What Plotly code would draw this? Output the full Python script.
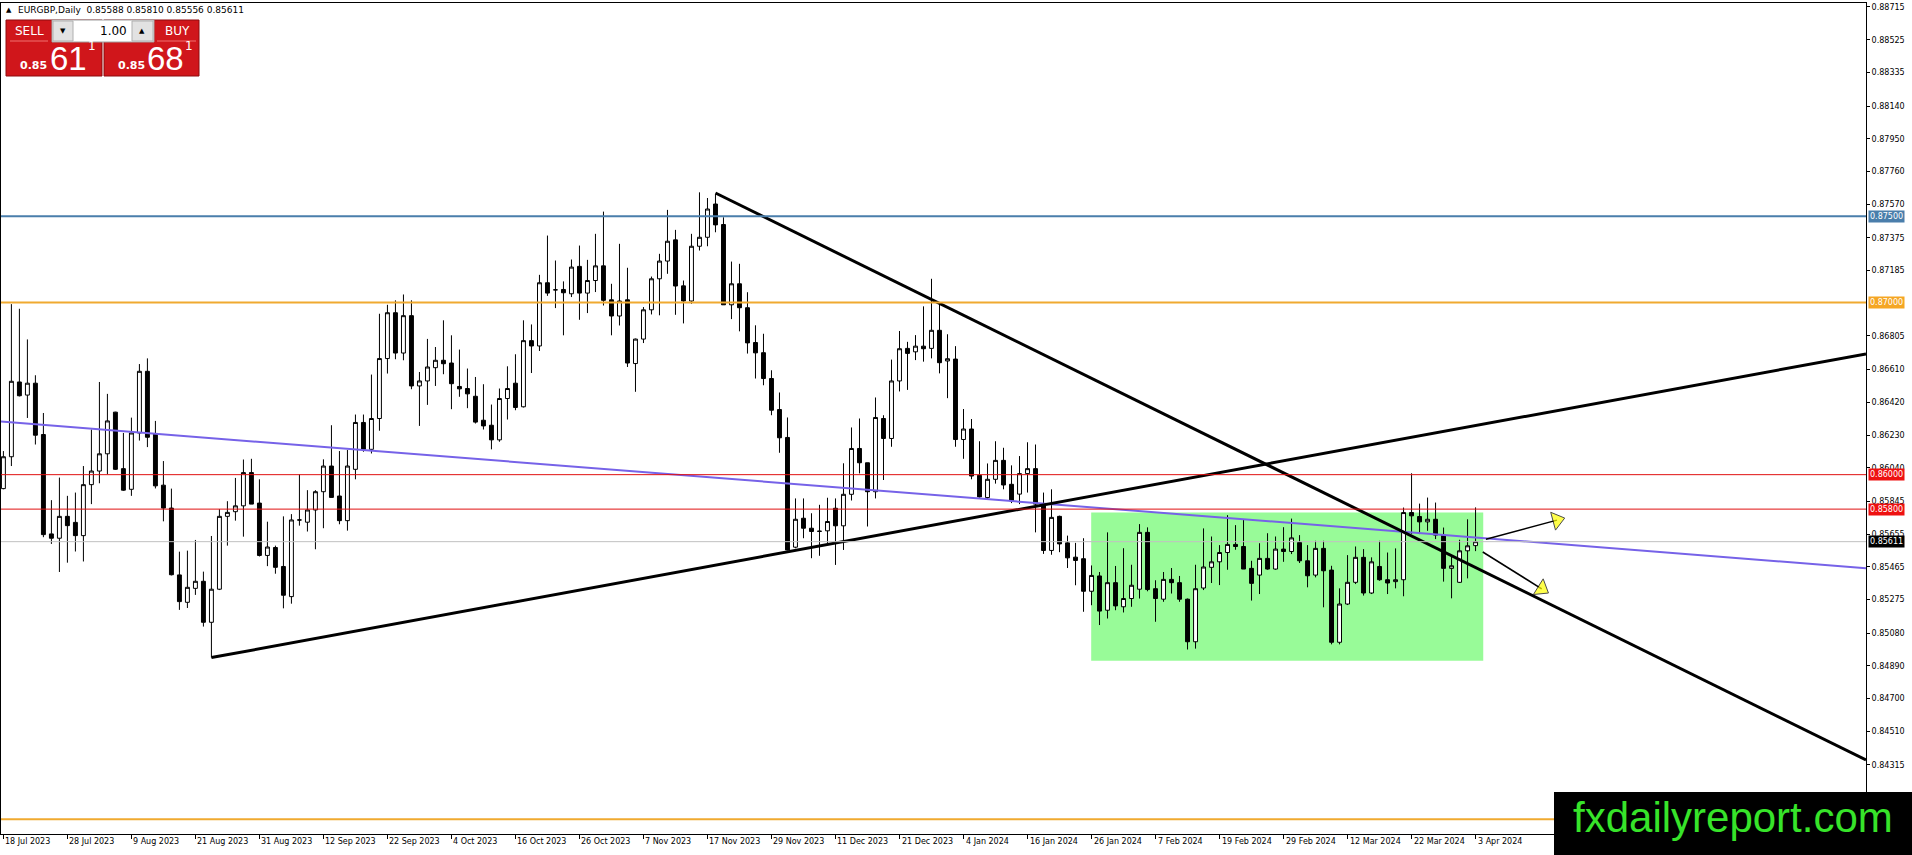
import pandas as pd
import plotly.graph_objects as go

# Velas diarias EURGBP (18 Jul 2023 - 3 Apr 2024)
holidays = ["2023-12-25", "2024-01-01"]
dates = pd.bdate_range("2023-07-18", "2024-04-03")
dates = dates[~dates.isin(pd.to_datetime(holidays))]

open_prices = [
    0.85919, 0.86104, 0.86538, 0.86462, 0.86531, 0.86233, 0.85656, 0.85631, 0.85758, 0.85723,
    0.85646, 0.85942, 0.86021, 0.86121, 0.86363, 0.86035, 0.85915, 0.86242, 0.86600, 0.86238,
    0.85939, 0.85806, 0.85418, 0.85259, 0.85340, 0.85381, 0.85143, 0.85335, 0.85758, 0.85785,
    0.85819, 0.86012, 0.85835, 0.85531, 0.85577, 0.85467, 0.85292, 0.85737, 0.85724, 0.85795,
    0.85901, 0.86050, 0.85876, 0.85733, 0.86031, 0.86303, 0.86147, 0.86326, 0.86674, 0.86940,
    0.86706, 0.86923, 0.86515, 0.86544, 0.86621, 0.86664, 0.86648, 0.86512, 0.86500, 0.86455,
    0.86316, 0.86287, 0.86202, 0.86442, 0.86531, 0.86394, 0.86778, 0.86747, 0.87114, 0.87073,
    0.87075, 0.87050, 0.87209, 0.87054, 0.87127, 0.87212, 0.87015, 0.86921, 0.87015, 0.86645,
    0.86787, 0.86957, 0.87137, 0.87240, 0.87363, 0.87096, 0.87008, 0.87326, 0.87378, 0.87571,
    0.87452, 0.86986, 0.87108, 0.86969, 0.86767, 0.86708, 0.86558, 0.86378, 0.86216, 0.85579,
    0.85747, 0.85689, 0.85672, 0.85674, 0.85805, 0.85703, 0.85886, 0.86152, 0.86069, 0.85901,
    0.86326, 0.86210, 0.86544, 0.86733, 0.86713, 0.86746, 0.86733, 0.86838, 0.86660, 0.86671,
    0.86204, 0.86265, 0.85996, 0.85867, 0.85973, 0.86083, 0.85944, 0.85887, 0.86006, 0.86035,
    0.85829, 0.85560, 0.85758, 0.85604, 0.85521, 0.85512, 0.85323, 0.85412, 0.85213, 0.85373,
    0.85233, 0.85281, 0.85335, 0.85665, 0.85338, 0.85277, 0.85392, 0.85373, 0.85277, 0.85030,
    0.85342, 0.85462, 0.85494, 0.85548, 0.85595, 0.85583, 0.85456, 0.85417, 0.85514, 0.85452,
    0.85568, 0.85554, 0.85606, 0.85500, 0.85417, 0.85572, 0.85446, 0.85027, 0.85249, 0.85375,
    0.85520, 0.85313, 0.85467, 0.85390, 0.85379, 0.85390, 0.85780, 0.85757, 0.85726, 0.85741,
    0.85649, 0.85456, 0.85375, 0.85558, 0.85588,
]
high_prices = [
    0.86137, 0.86990, 0.86963, 0.86785, 0.86577, 0.86358, 0.85852, 0.85983, 0.85877, 0.85896,
    0.86050, 0.86262, 0.86538, 0.86469, 0.86365, 0.86242, 0.86331, 0.86642, 0.86675, 0.86312,
    0.86079, 0.85919, 0.85553, 0.85559, 0.85621, 0.85437, 0.85644, 0.85800, 0.85846, 0.85981,
    0.86088, 0.86092, 0.85973, 0.85727, 0.85588, 0.85758, 0.85771, 0.86002, 0.85910, 0.85910,
    0.86089, 0.86287, 0.86137, 0.86143, 0.86349, 0.86349, 0.86581, 0.86934, 0.86986, 0.87012,
    0.87046, 0.87012, 0.86596, 0.86788, 0.86741, 0.86896, 0.86809, 0.86726, 0.86616, 0.86567,
    0.86525, 0.86407, 0.86500, 0.86629, 0.86699, 0.86896, 0.86872, 0.87160, 0.87388, 0.87243,
    0.87122, 0.87249, 0.87330, 0.87247, 0.87398, 0.87527, 0.87108, 0.87340, 0.87201, 0.86790,
    0.86973, 0.87150, 0.87282, 0.87537, 0.87421, 0.87127, 0.87398, 0.87639, 0.87606, 0.87629,
    0.87494, 0.87237, 0.87224, 0.87059, 0.86867, 0.86818, 0.86606, 0.86477, 0.86332, 0.85862,
    0.85862, 0.85776, 0.85825, 0.85866, 0.85862, 0.86066, 0.86274, 0.86326, 0.86069, 0.86448,
    0.86345, 0.86668, 0.86834, 0.86771, 0.86810, 0.86977, 0.87137, 0.86992, 0.86815, 0.86746,
    0.86381, 0.86323, 0.86194, 0.86065, 0.86194, 0.86156, 0.86054, 0.86108, 0.86188, 0.86175,
    0.85896, 0.85915, 0.85762, 0.85646, 0.85604, 0.85631, 0.85473, 0.85435, 0.85665, 0.85470,
    0.85573, 0.85477, 0.85713, 0.85694, 0.85387, 0.85435, 0.85458, 0.85412, 0.85281, 0.85477,
    0.85688, 0.85641, 0.85591, 0.85765, 0.85707, 0.85738, 0.85500, 0.85602, 0.85660, 0.85641,
    0.85695, 0.85745, 0.85649, 0.85591, 0.85616, 0.85616, 0.85471, 0.85340, 0.85533, 0.85583,
    0.85568, 0.85520, 0.85616, 0.85548, 0.85572, 0.85809, 0.86008, 0.85832, 0.85867, 0.85838,
    0.85693, 0.85529, 0.85622, 0.85741, 0.85810,
]
low_prices = [
    0.85915, 0.86050, 0.86454, 0.86329, 0.86175, 0.85637, 0.85598, 0.85435, 0.85489, 0.85554,
    0.85496, 0.85829, 0.85950, 0.86002, 0.86027, 0.85906, 0.85877, 0.86198, 0.86160, 0.85920,
    0.85729, 0.85415, 0.85215, 0.85226, 0.85302, 0.85118, 0.84938, 0.85330, 0.85588, 0.85733,
    0.85640, 0.85829, 0.85525, 0.85469, 0.85425, 0.85224, 0.85251, 0.85704, 0.85670, 0.85567,
    0.85689, 0.85868, 0.85712, 0.85675, 0.85973, 0.86133, 0.86123, 0.86255, 0.86587, 0.86670,
    0.86664, 0.86496, 0.86283, 0.86405, 0.86515, 0.86583, 0.86380, 0.86452, 0.86386, 0.86297,
    0.86262, 0.86147, 0.86191, 0.86320, 0.86374, 0.86390, 0.86590, 0.86718, 0.87038, 0.86967,
    0.86809, 0.87031, 0.86899, 0.86938, 0.87060, 0.86982, 0.86809, 0.86866, 0.86625, 0.86481,
    0.86764, 0.86930, 0.86925, 0.87166, 0.86928, 0.86878, 0.86992, 0.87301, 0.87326, 0.87407,
    0.86986, 0.86903, 0.86832, 0.86703, 0.86558, 0.86519, 0.86345, 0.86127, 0.85560, 0.85573,
    0.85631, 0.85515, 0.85529, 0.85602, 0.85476, 0.85563, 0.85850, 0.86007, 0.85699, 0.85862,
    0.85969, 0.86162, 0.86483, 0.86492, 0.86665, 0.86656, 0.86675, 0.86588, 0.86444, 0.86162,
    0.86092, 0.85973, 0.85867, 0.85858, 0.85948, 0.85915, 0.85835, 0.85829, 0.85896, 0.85665,
    0.85540, 0.85535, 0.85550, 0.85458, 0.85358, 0.85204, 0.85242, 0.85127, 0.85165, 0.85213,
    0.85200, 0.85233, 0.85281, 0.85323, 0.85146, 0.85262, 0.85310, 0.85262, 0.84985, 0.84990,
    0.85330, 0.85371, 0.85359, 0.85448, 0.85564, 0.85452, 0.85269, 0.85307, 0.85448, 0.85448,
    0.85494, 0.85539, 0.85487, 0.85346, 0.85404, 0.85230, 0.85015, 0.85015, 0.85243, 0.85365,
    0.85298, 0.85307, 0.85384, 0.85307, 0.85340, 0.85294, 0.85655, 0.85655, 0.85674, 0.85626,
    0.85379, 0.85282, 0.85371, 0.85398, 0.85556,
]
close_prices = [
    0.86104, 0.86542, 0.86458, 0.86531, 0.86229, 0.85652, 0.85631, 0.85758, 0.85704, 0.85646,
    0.85942, 0.86021, 0.86121, 0.86312, 0.86031, 0.85910, 0.86242, 0.86600, 0.86217, 0.85935,
    0.85806, 0.85419, 0.85263, 0.85346, 0.85381, 0.85143, 0.85335, 0.85758, 0.85781, 0.85819,
    0.86012, 0.85829, 0.85531, 0.85580, 0.85462, 0.85300, 0.85737, 0.85737, 0.85795, 0.85901,
    0.86050, 0.85868, 0.85733, 0.86050, 0.86303, 0.86147, 0.86326, 0.86674, 0.86940, 0.86706,
    0.86923, 0.86515, 0.86544, 0.86625, 0.86664, 0.86644, 0.86528, 0.86498, 0.86469, 0.86305,
    0.86283, 0.86202, 0.86442, 0.86500, 0.86390, 0.86778, 0.86747, 0.87114, 0.87054, 0.87073,
    0.87056, 0.87205, 0.87054, 0.87127, 0.87212, 0.87012, 0.86921, 0.87008, 0.86648, 0.86787,
    0.86957, 0.87137, 0.87240, 0.87355, 0.87095, 0.87008, 0.87326, 0.87378, 0.87542, 0.87450,
    0.86986, 0.87108, 0.86969, 0.86765, 0.86707, 0.86558, 0.86374, 0.86214, 0.85563, 0.85741,
    0.85689, 0.85670, 0.85671, 0.85728, 0.85703, 0.85886, 0.86152, 0.86069, 0.85901, 0.86332,
    0.86210, 0.86544, 0.86731, 0.86704, 0.86746, 0.86731, 0.86838, 0.86650, 0.86673, 0.86204,
    0.86265, 0.85992, 0.85871, 0.85973, 0.86083, 0.85940, 0.85848, 0.86006, 0.86035, 0.85829,
    0.85560, 0.85752, 0.85598, 0.85517, 0.85502, 0.85323, 0.85415, 0.85208, 0.85373, 0.85238,
    0.85281, 0.85358, 0.85665, 0.85333, 0.85281, 0.85392, 0.85373, 0.85277, 0.85030, 0.85338,
    0.85464, 0.85494, 0.85548, 0.85595, 0.85583, 0.85452, 0.85369, 0.85514, 0.85452, 0.85568,
    0.85554, 0.85633, 0.85500, 0.85413, 0.85572, 0.85442, 0.85027, 0.85249, 0.85375, 0.85520,
    0.85313, 0.85494, 0.85390, 0.85371, 0.85390, 0.85780, 0.85761, 0.85726, 0.85741, 0.85649,
    0.85456, 0.85471, 0.85558, 0.85587, 0.85611,
]

date_labels = [
    "18 Jul 2023", "28 Jul 2023", "9 Aug 2023", "21 Aug 2023", "31 Aug 2023", "12 Sep 2023",
    "22 Sep 2023", "4 Oct 2023", "16 Oct 2023", "26 Oct 2023", "7 Nov 2023", "17 Nov 2023",
    "29 Nov 2023", "11 Dec 2023", "21 Dec 2023", "4 Jan 2024", "16 Jan 2024", "26 Jan 2024",
    "7 Feb 2024", "19 Feb 2024", "29 Feb 2024", "12 Mar 2024", "22 Mar 2024", "3 Apr 2024",
]
price_ticks = [
    0.88715, 0.88525, 0.88335, 0.88140, 0.87950, 0.87760, 0.87570, 0.87375, 0.87185,
    0.86805, 0.86610, 0.86420, 0.86230, 0.86040, 0.85845, 0.85655, 0.85465, 0.85275,
    0.85080, 0.84890, 0.84700, 0.84510, 0.84315,
]

# niveles horizontales (precio, color, grosor)
levels = [0.87500, 0.87000, 0.86000, 0.85800, 0.84000]
level_colors = ["#4A7EAB", "#F0AA30", "#E01010", "#E01010", "#F0AA30"]
level_widths = [2, 2, 1, 1, 2]
bid = close_prices[-1]

# objetos dibujados (indice de vela, precio)
trend_down_x, trend_down_y = [89.0, 232.8], [0.87635, 0.84344]
trend_up_x, trend_up_y = [26.0, 232.8], [0.84938, 0.86701]
channel_x, channel_y = [-0.3, 232.8], [0.86308, 0.85457]
arrow_up_x, arrow_up_y = [185.3, 194.9], [0.85625, 0.85745]
arrow_dn_x, arrow_dn_y = [184.9, 192.9], [0.85551, 0.85319]
zone_x, zone_y = [135.96, 184.96], [0.84920, 0.85780]

W, H = 1912, 855
ML, MR, MT, MB = 1, 46, 3, 21


def px(x):
    return (x - ML) / (W - ML - MR)


def py(y):
    return 1 - (y - MT) / (H - MT - MB)


bars = list(range(len(close_prices)))
tick_pos = [dates.get_loc(pd.to_datetime(d, format="%d %b %Y")) for d in date_labels]

fig = go.Figure()
fig.add_trace(go.Candlestick(
    x=bars, open=open_prices, high=high_prices, low=low_prices, close=close_prices,
    increasing=dict(line=dict(color="black", width=1), fillcolor="white"),
    decreasing=dict(line=dict(color="black", width=1), fillcolor="black"),
    whiskerwidth=0, hoverinfo="skip", showlegend=False,
))

line_style = dict(mode="lines", hoverinfo="skip", showlegend=False)
fig.add_trace(go.Scatter(x=channel_x, y=channel_y, line=dict(color="#7662E8", width=2), **line_style))
fig.add_trace(go.Scatter(x=trend_down_x, y=trend_down_y, line=dict(color="black", width=3), **line_style))
fig.add_trace(go.Scatter(x=trend_up_x, y=trend_up_y, line=dict(color="black", width=3), **line_style))

for ax, ay in [(arrow_up_x, arrow_up_y), (arrow_dn_x, arrow_dn_y)]:
    fig.add_trace(go.Scatter(
        x=ax, y=ay, mode="lines+markers", hoverinfo="skip", showlegend=False,
        line=dict(color="black", width=1.5),
        marker=dict(symbol="triangle-up", size=[0, 16], angleref="previous", standoff=6,
                    color="#FFFF00", line=dict(color="black", width=1)),
    ))

shapes = [dict(type="rect", xref="x", yref="y", x0=zone_x[0], x1=zone_x[1], y0=zone_y[0], y1=zone_y[1],
               fillcolor="#98FB98", line=dict(width=0), layer="below")]
for lv, c, w in zip(levels, level_colors, level_widths):
    shapes.append(dict(type="line", xref="paper", yref="y", x0=0, x1=1, y0=lv, y1=lv,
                       line=dict(color=c, width=w), layer="above"))
shapes.append(dict(type="line", xref="paper", yref="y", x0=0, x1=1, y0=bid, y1=bid,
                   line=dict(color="#C0C0C0", width=1), layer="above"))

annotations = []
for lbl, pos in zip(date_labels, tick_pos):
    annotations.append(dict(x=pos, y=0, xref="x", yref="paper", text=lbl, showarrow=False,
                            xanchor="left", yanchor="top", yshift=-1,
                            font=dict(family="DejaVu Sans", size=8, color="black")))

# etiquetas de precio en el eje derecho
box_labels = [(0.87500, "#4A7EAB"), (0.87000, "#F5A623"), (0.86000, "#EE1111"),
              (0.85800, "#EE1111"), (bid, "black")]
for val, c in box_labels:
    annotations.append(dict(x=1, y=val, xref="paper", yref="y", text=f"{val:.5f}", showarrow=False,
                            xanchor="left", yanchor="middle", xshift=2, bgcolor=c, borderpad=1,
                            font=dict(family="DejaVu Sans", size=8, color="white")))

# panel de un clic (SELL / BUY)
red = "#D0161B"
for x0, x1 in [(6, 102), (104, 199)]:
    shapes.append(dict(type="rect", xref="paper", yref="paper", x0=px(x0), x1=px(x1),
                       y0=py(76), y1=py(20), fillcolor=red, line=dict(color="#8E0B0E", width=1),
                       layer="above"))
shapes.append(dict(type="line", xref="paper", yref="paper", x0=px(10), x1=px(48), y0=py(41), y1=py(41),
                   line=dict(color="#F07070", width=1), layer="above"))
shapes.append(dict(type="line", xref="paper", yref="paper", x0=px(157), x1=px(196), y0=py(41), y1=py(41),
                   line=dict(color="#F07070", width=1), layer="above"))
shapes.append(dict(type="rect", xref="paper", yref="paper", x0=px(52), x1=px(154), y0=py(42), y1=py(20),
                   fillcolor="white", line=dict(color="#A0A0A0", width=1), layer="above"))
for x0, x1 in [(53, 73), (132, 153)]:
    shapes.append(dict(type="rect", xref="paper", yref="paper", x0=px(x0), x1=px(x1), y0=py(41), y1=py(21),
                       fillcolor="#E2E2E2", line=dict(color="#B0B0B0", width=1), layer="above"))
# marca de agua
shapes.append(dict(type="rect", xref="paper", yref="paper", x0=px(1554), x1=px(1914), y0=py(857), y1=py(792),
                   fillcolor="black", line=dict(width=0), layer="above"))


def note(x, y, text, size, color="white", anchor="left", family="DejaVu Sans"):
    annotations.append(dict(x=px(x), y=py(y), xref="paper", yref="paper", text=text, showarrow=False,
                            xanchor=anchor, yanchor="middle",
                            font=dict(family=family, size=size, color=color)))


note(4, 10, "▲", 7, "black")
note(16, 10, "EURGBP,Daily  0.85588 0.85810 0.85556 0.85611", 9, "black")
note(29, 31, "SELL", 12, anchor="center")
note(177, 31, "BUY", 12, anchor="center")
note(63, 31, "▼", 7, "black", anchor="center")
note(142, 31, "▲", 7, "black", anchor="center")
note(129, 31, "1.00", 12, "black", anchor="right")
note(18, 66, "<b>0.85</b>", 11)
note(48, 58, "61", 33, family="Liberation Sans")
note(86, 46, "1", 12)
note(116, 66, "<b>0.85</b>", 11)
note(145, 58, "68", 33, family="Liberation Sans")
note(183, 46, "1", 12)
note(1733, 817, "fxdailyreport.com", 42, "#37E42A", anchor="center", family="Liberation Sans")

fig.update_layout(
    width=W, height=H,
    margin=dict(l=ML, r=MR, t=MT, b=MB),
    paper_bgcolor="white", plot_bgcolor="white",
    shapes=shapes, annotations=annotations,
    showlegend=False,
    xaxis=dict(range=[-0.3, 232.8], showgrid=False, zeroline=False, showline=True, mirror=True,
               linecolor="black", linewidth=1, ticks="outside", ticklen=4, tickcolor="black",
               tickvals=tick_pos, showticklabels=False, rangeslider=dict(visible=False)),
    yaxis=dict(range=[0.83914, 0.88738], side="right", showgrid=False, zeroline=False,
               showline=True, mirror=True, linecolor="black", linewidth=1,
               ticks="outside", ticklen=3, tickcolor="black",
               tickvals=price_ticks, ticktext=[f"{v:.5f}" for v in price_ticks],
               tickfont=dict(family="DejaVu Sans", size=8, color="black")),
)

# quitar el margen por defecto del <body> para que la figura quede en (0, 0)
fig.write_html("out.html", config={"displayModeBar": False},
               post_script="document.body.style.margin='0';"
                           "document.documentElement.style.overflow='hidden';")
